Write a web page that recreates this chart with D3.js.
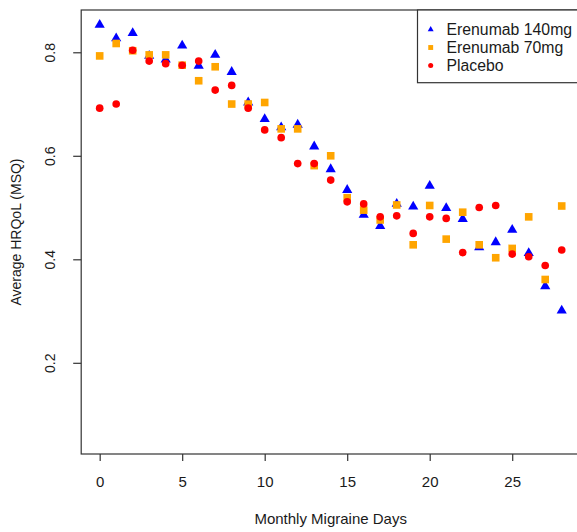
<!DOCTYPE html>
<html>
<head>
<meta charset="utf-8">
<script src="https://cdn.jsdelivr.net/npm/d3@7"></script>
<style>
  html, body { margin: 0; padding: 0; background: #fff; }
  svg { display: block; }
  text { font-family: "Liberation Sans", Arial, sans-serif; fill: #1a1a1a; }
</style>
</head>
<body>
<svg id="chart" width="577" height="532"></svg>
<script>
const days = d3.range(0, 29);
const seriesNames = ["Erenumab 140mg", "Erenumab 70mg", "Placebo"];
const erenumab140 = [0.853, 0.827, 0.837, 0.793, 0.786, 0.813, 0.774, 0.795, 0.762, 0.703,
  0.671, 0.655, 0.660, 0.618, 0.574, 0.534, 0.486, 0.464, 0.507, 0.502,
  0.542, 0.499, 0.478, 0.423, 0.433, 0.457, 0.412, 0.348, 0.301];
const erenumab70 = [0.793, 0.817, 0.803, 0.795, 0.795, 0.775, 0.745, 0.772, 0.700, 0.700,
  0.703, 0.652, 0.652, 0.581, 0.600, 0.519, 0.495, 0.476, 0.505, 0.428,
  0.504, 0.439, 0.491, 0.428, 0.403, 0.421, 0.482, 0.361, 0.503];
const placebo = [0.692, 0.700, 0.804, 0.783, 0.778, 0.775, 0.783, 0.727, 0.736, 0.692,
  0.650, 0.635, 0.585, 0.585, 0.553, 0.511, 0.507, 0.482, 0.484, 0.450,
  0.482, 0.479, 0.413, 0.500, 0.504, 0.410, 0.405, 0.388, 0.418];
const xTicks = [0, 5, 10, 15, 20, 25];
const yTicks = [0.2, 0.4, 0.6, 0.8];
const xTitle = "Monthly Migraine Days";
const yTitle = "Average HRQoL (MSQ)";

const colors = ["#0000FF", "#FFA500", "#FF0000"];
const symbols = [d3.symbolTriangle, d3.symbolSquare, d3.symbolCircle];
const plotSizes = [45, 58, 46];
const legendSizes = [15, 24, 20];

const svg = d3.select("#chart");
svg.append("rect").attr("width", 577).attr("height", 532).attr("fill", "#fff");

const pLeft = 81.2, pRight = 580.2, pTop = 10, pBottom = 454;
const x = d3.scaleLinear().domain([-1.12, 29.12]).range([pLeft, pRight]);
const y = d3.scaleLinear().domain([0.0238, 0.8817]).range([pBottom, pTop]);

// points (drawn in series order: 140mg, 70mg, placebo)
const allSeries = [erenumab140, erenumab70, placebo];
allSeries.forEach((vals, i) => {
  svg.append("g").selectAll("path").data(days).join("path")
    .attr("transform", d => `translate(${x(d)},${y(vals[d])})`)
    .attr("d", d3.symbol().type(symbols[i]).size(plotSizes[i]))
    .attr("fill", colors[i]);
});

// box
svg.append("rect").attr("x", pLeft).attr("y", pTop)
  .attr("width", pRight - pLeft).attr("height", pBottom - pTop)
  .attr("fill", "none").attr("stroke", "#333").attr("stroke-width", 1.2);

// x axis
const gx = svg.append("g").attr("transform", `translate(0,${pBottom})`)
  .call(d3.axisBottom(x).tickValues(xTicks).tickSize(7).tickFormat(d3.format("d")));
gx.select(".domain").remove();
gx.selectAll("line").attr("stroke", "#333").attr("stroke-width", 1.2);
gx.selectAll("text").attr("y", 33).attr("dy", 0)
  .style("font-size", "15px").style("font-family", "Liberation Sans, Arial, sans-serif").attr("fill", "#1a1a1a");

// y axis
const gy = svg.append("g").attr("transform", `translate(${pLeft},0)`)
  .call(d3.axisLeft(y).tickValues(yTicks).tickSize(8).tickFormat(d3.format(".1f")));
gy.select(".domain").remove();
gy.selectAll("line").attr("stroke", "#333").attr("stroke-width", 1.2);
gy.selectAll("text").attr("transform", "rotate(-90)").attr("x", 0).attr("y", -26).attr("dy", 0)
  .attr("text-anchor", "middle")
  .style("font-size", "14px").style("font-family", "Liberation Sans, Arial, sans-serif").attr("fill", "#1a1a1a");

// titles
svg.append("text").attr("x", (pLeft + pRight) / 2).attr("y", 524)
  .attr("text-anchor", "middle").style("font-size", "15px").text(xTitle);
svg.append("text").attr("transform", `translate(21,${(pTop + pBottom) / 2}) rotate(-90)`)
  .attr("text-anchor", "middle").style("font-size", "14px").text(yTitle);

// legend
const lg = svg.append("g");
lg.append("rect").attr("x", 417.5).attr("y", 10).attr("width", 200).attr("height", 72.7)
  .attr("fill", "#fff").attr("stroke", "#333").attr("stroke-width", 1.2);
seriesNames.forEach((name, i) => {
  const cy = 29.5 + i * 18;
  lg.append("path").attr("transform", `translate(430.7,${cy})`)
    .attr("d", d3.symbol().type(symbols[i]).size(legendSizes[i])).attr("fill", colors[i]);
  lg.append("text").attr("x", 446.5).attr("y", cy + 5.5).style("font-size", "15.8px").text(name);
});
</script>
</body>
</html>
